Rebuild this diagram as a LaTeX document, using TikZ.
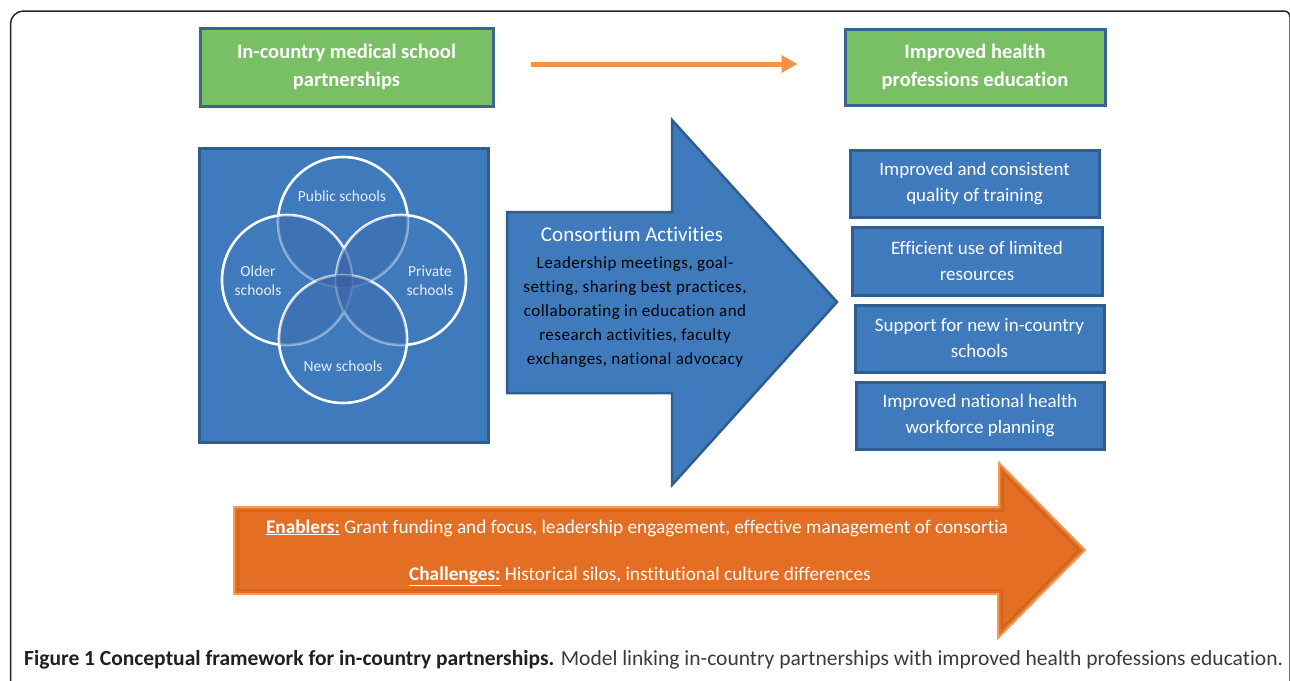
\documentclass[tikz,border=0pt]{standalone}
\usepackage{fontspec}
\setmainfont{Carlito}[Ligatures=NoCommon]
\newfontfamily\spacedfont{Carlito}[LetterSpace=3,Ligatures=NoCommon]
\usetikzlibrary{arrows.meta}
\definecolor{gfill}{HTML}{79BF64}
\definecolor{gborder}{HTML}{3C6491}
\definecolor{bfill}{HTML}{3F7ABD}
\definecolor{bborder}{HTML}{2F5D8E}
\definecolor{vennover}{HTML}{3A5FA0}
\definecolor{ofill}{HTML}{E36E24}
\definecolor{oborder}{HTML}{F39A55}
\definecolor{thinorange}{HTML}{F3934A}
\definecolor{vtext}{HTML}{E6ECF5}
\definecolor{captxt}{HTML}{231F20}
\definecolor{capreg}{HTML}{3A3A3A}
\tikzset{
  greenbox/.style={draw=gborder, line width=3pt, fill=gfill, text=white, align=center,
    font=\fontsize{20.5}{28}\selectfont\bfseries, inner sep=0pt},
  bluebox/.style={draw=bborder, line width=3pt, fill=bfill, text=white, align=center,
    font=\fontsize{19}{26}\selectfont, inner sep=0pt},
  venntext/.style={text=vtext, align=center, font=\fontsize{15.5}{19}\selectfont, inner sep=0pt},
  venncircle/.style={draw=white, line width=2.6pt, fill=bfill, fill opacity=0.55},
  thinarrow/.style={draw=thinorange, line width=5pt, -{Triangle[length=16pt,width=17pt]}},
  orangetext/.style={text=white, font=\fontsize{19.3}{22}\selectfont, inner sep=0pt},
}
\begin{document}
\begin{tikzpicture}[x=1pt,y=-1pt]
\useasboundingbox (0,0) rectangle (1290,680);
\begin{scope}
\clip (0,0) rectangle (1290,680);
\draw[line width=1.5pt, draw=black!85] (10.5,700) -- (10.5,24) arc[start angle=180, end angle=270, radius=13] -- (1284,11) arc[start angle=-90, end angle=0, radius=6] -- (1290,700);
\end{scope}

% top green boxes
\node[greenbox, minimum width=293pt, minimum height=78pt] (g1) at (346.5,67) {In-country medical school\\partnerships};
\node[greenbox, minimum width=260pt, minimum height=76pt] (g2) at (975,67) {Improved health\\professions education};
\draw[thinarrow, shorten <=36pt, shorten >=46pt] ([yshift=3pt]g1.east) -- ([yshift=3pt]g2.west);

% Venn box
\node[draw=bborder, line width=3pt, fill=bfill, minimum width=289pt, minimum height=294pt, inner sep=0pt] (venn) at (343.5,295) {};
\draw[venncircle] (343,222) circle[radius=65];
\draw[venncircle] (287,280) circle[radius=65];
\draw[venncircle] (401,280) circle[radius=65];
\draw[venncircle] (343,339) circle[radius=64];
% darker overlaps
\foreach \a/\b/\c/\d/\e/\f in {343/222/65/287/280/65, 343/222/65/401/280/65, 343/222/65/343/339/64, 287/280/65/343/339/64, 401/280/65/343/339/64, 287/280/65/401/280/65}{
  \begin{scope}
    \clip (\a,\b) circle[radius=\c];
    \fill[vennover, fill opacity=0.25] (\d,\e) circle[radius=\f];
  \end{scope}
}
\node[venntext] (pub) at (342,196) {Public schools};
\node[venntext] (old) at (258,281) {Older\\schools};
\node[venntext] (pri) at (430,281) {Private\\schools};
\node[venntext] (new) at (343,366) {New schools};

% consortium block arrow
\draw[draw=bborder, line width=2.5pt, fill=bfill, line join=miter]
  (507,212) -- (672,212) -- (672,120) -- (837,302) -- (672,485) -- (672,393) -- (507,393) -- cycle;
\node[text=white, font=\fontsize{21}{24}\selectfont, inner sep=0pt] (ctitle) at (632,234) {Consortium Activities};
\node[text=black, align=center, font=\fontsize{17}{24}\selectfont\spacedfont, inner sep=0pt, anchor=north] (cbody) at (635,256)
 {Leadership meetings, goal-\\setting, sharing best practices,\\collaborating in education and\\research activities, faculty\\exchanges, national advocacy};

% outcome boxes
\node[bluebox, minimum width=249pt, minimum height=67pt] (o1) at (974.5,184) {Improved and consistent\\quality of training};
\node[bluebox, minimum width=250pt, minimum height=68pt] (o2) at (977,261) {Efficient use of limited\\resources};
\node[bluebox, minimum width=249pt, minimum height=67pt] (o3) at (979.5,338.5) {Support for new in-country\\schools};
\node[bluebox, minimum width=248pt, minimum height=67pt] (o4) at (980,415.5) {Improved national health\\workforce planning};

% orange block arrow
\draw[draw=oborder, line width=2pt, fill=ofill, line join=miter]
  (234,507) -- (999,507) -- (999,463) -- (1085,550) -- (998,638) -- (998,594) -- (234,594) -- cycle;
\draw[draw=ofill!75!black, line width=1.2pt, opacity=0.5, line join=miter]
  (238,511) -- (1003,511) -- (1003,473) -- (1079,550) -- (1002,628) -- (1002,590) -- (238,590) -- cycle;
\node[orangetext] (enab) at (637,528) {\underline{\textbf{Enablers:}} Grant funding and focus, leadership engagement, effective management of consortia};
\node[orangetext] (chal) at (640,576) {\underline{\textbf{Challenges:}} Historical silos, institutional culture differences};

% caption
\node[anchor=base west, inner sep=0pt, font=\fontsize{20}{24}\selectfont] (cap) at (24,665)
 {\resizebox{1259pt}{!}{\textcolor{captxt}{\textbf{Figure 1 Conceptual framework for in-country partnerships.}} \textcolor{capreg}{Model linking in-country partnerships with improved health professions education.}}};
\end{tikzpicture}
\end{document}
